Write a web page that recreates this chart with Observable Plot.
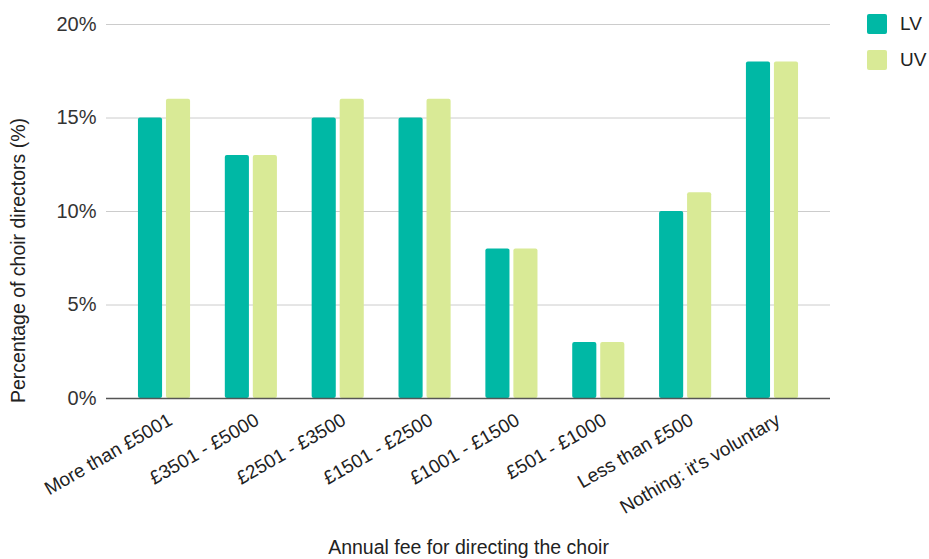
<!DOCTYPE html>
<html>
<head>
<meta charset="utf-8">
<script src="https://cdn.jsdelivr.net/npm/d3@7"></script>
<script src="https://cdn.jsdelivr.net/npm/@observablehq/plot@0.6"></script>
<style>
  html, body { margin: 0; padding: 0; background: #fff; }
  #chart { position: relative; width: 929px; height: 559px; font-family: Arial, "Liberation Sans", sans-serif; }
  #chart svg { display: block; }
  .legend { position: absolute; left: 867px; top: 14px; }
  .legend .item { display: flex; align-items: center; height: 20px; margin-bottom: 16px; }
  .legend .swatch { width: 20px; height: 20px; border-radius: 2px; margin-right: 13px; }
  .legend .name { font-size: 19px; color: #222; }
</style>
</head>
<body>
<div id="chart"></div>
<script>
// Share of choir directors by annual fee band, for the two voice groups
const categories = [
  "More than £5001", "£3501 - £5000", "£2501 - £3500", "£1501 - £2500",
  "£1001 - £1500", "£501 - £1000", "Less than £500", "Nothing: it's voluntary"
];
const seriesNames = ["LV", "UV"];
const lvValues = [15, 13, 15, 15, 8, 3, 10, 18];
const uvValues = [16, 13, 16, 16, 8, 3, 11, 18];
const yTicks = [0, 5, 10, 15, 20];

const colors = { LV: "#00b8a5", UV: "#d9ea96" };

const lvRows = categories.map((c, i) => ({ category: c, value: lvValues[i] }));
const uvRows = categories.map((c, i) => ({ category: c, value: uvValues[i] }));

const font = "Arial, 'Liberation Sans', sans-serif";

const plot = Plot.plot({
  width: 929,
  height: 559,
  marginLeft: 106,
  marginRight: 99,
  marginTop: 24,
  marginBottom: 161,
  style: { fontFamily: font, background: "#fff", overflow: "visible" },
  x: { domain: categories, paddingInner: 0.4, paddingOuter: 0.368, round: false, axis: null },
  y: { domain: [0, 20], axis: null },
  marks: [
    // horizontal gridlines
    Plot.ruleY(yTicks.filter(t => t > 0), { stroke: "#cccccc", strokeWidth: 1 }),
    // bars: LV on the left half of each band, UV on the right half
    Plot.barY(lvRows, { x: "category", y: "value", fill: colors.LV, insetRight: 28, rx: 2 }),
    Plot.barY(uvRows, { x: "category", y: "value", fill: colors.UV, insetLeft: 28, rx: 2 }),
    // baseline
    Plot.ruleY([0], { stroke: "#555", strokeWidth: 1.6 }),
    // y tick labels
    Plot.text(yTicks, {
      y: d => d, text: d => `${d}%`, frameAnchor: "left", dx: -10,
      textAnchor: "end", fontSize: 20, fill: "#333"
    }),
    // x tick labels, slanted
    Plot.text(categories, {
      x: d => d, text: d => d, frameAnchor: "bottom", dx: 6, dy: 20,
      rotate: -30, textAnchor: "end", lineAnchor: "middle", fontSize: 19, fill: "#222"
    }),
    // axis titles
    Plot.text(["Percentage of choir directors (%)"], {
      frameAnchor: "left", dx: -88, dy: 49, rotate: -90, textAnchor: "middle",
      fontSize: 19.5, fill: "#222"
    }),
    Plot.text(["Annual fee for directing the choir"], {
      frameAnchor: "bottom", dy: 155, textAnchor: "middle", fontSize: 19.5, fill: "#222"
    })
  ]
});

const chart = document.getElementById("chart");
chart.appendChild(plot);

const legend = document.createElement("div");
legend.className = "legend";
for (const name of seriesNames) {
  const item = document.createElement("div");
  item.className = "item";
  const sw = document.createElement("div");
  sw.className = "swatch";
  sw.style.background = colors[name];
  const label = document.createElement("span");
  label.className = "name";
  label.textContent = name;
  item.appendChild(sw);
  item.appendChild(label);
  legend.appendChild(item);
}
chart.appendChild(legend);
</script>
</body>
</html>
